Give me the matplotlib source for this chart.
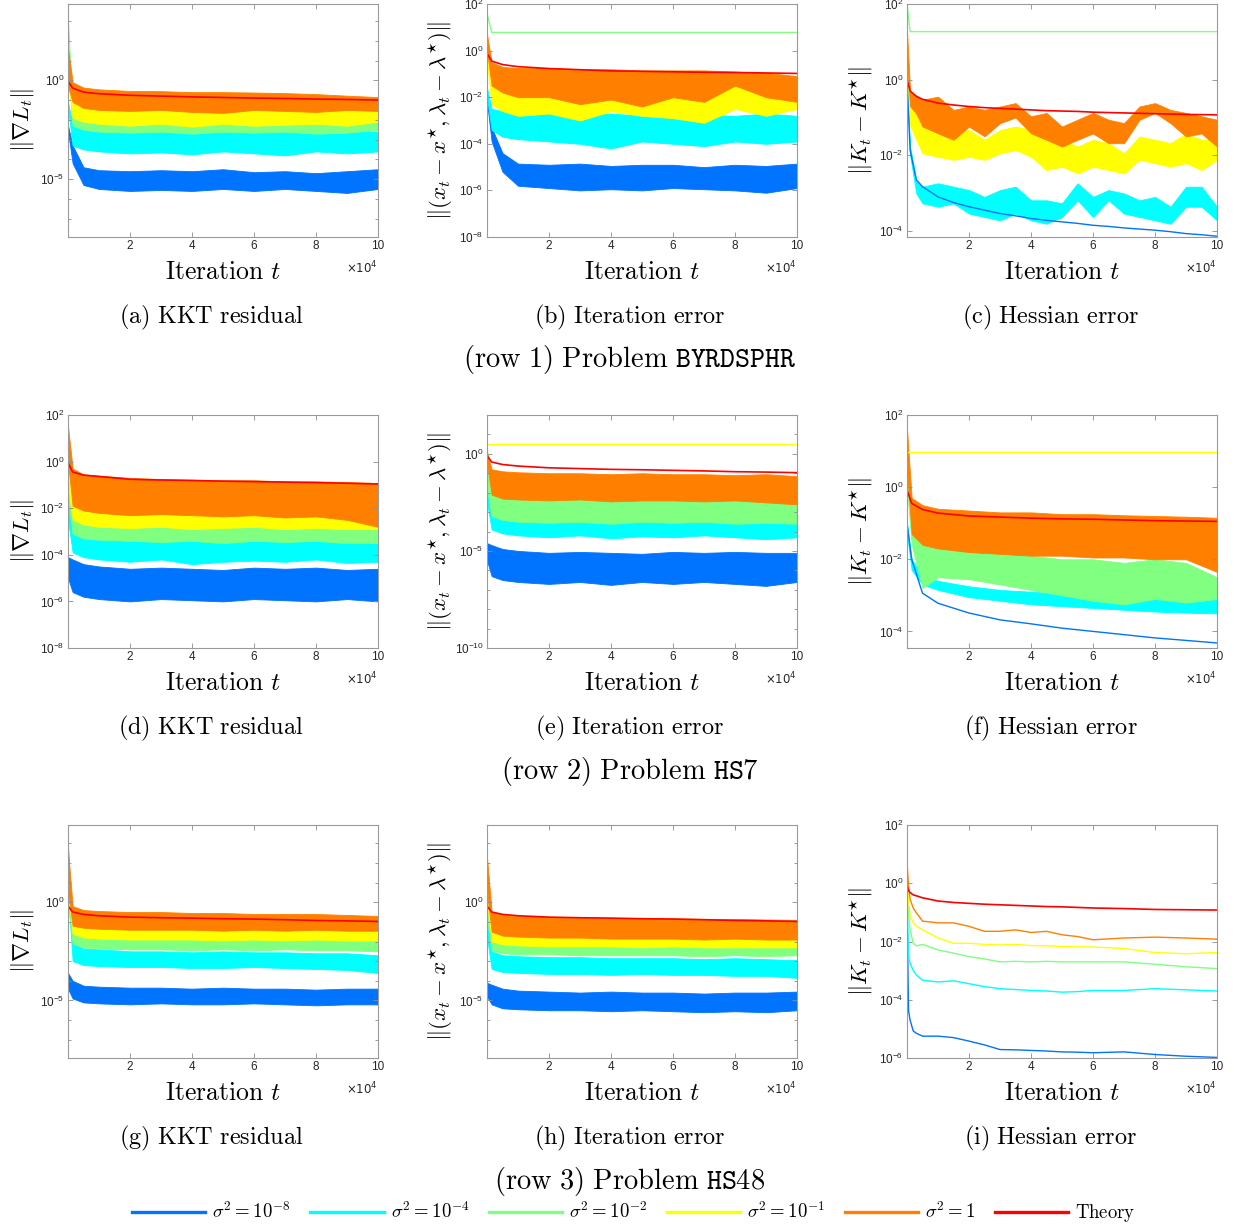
import numpy as np
import matplotlib
matplotlib.use('Agg')
import matplotlib.pyplot as plt
from matplotlib.lines import Line2D
from matplotlib.font_manager import FontProperties
from matplotlib.ticker import FixedLocator, NullFormatter

plt.rcParams['font.family'] = ['Liberation Sans', 'DejaVu Sans']
plt.rcParams['mathtext.fontset'] = 'dejavusans'

W, H = 1234, 1228

# series colours (sigma^2 = 1e-8, 1e-4, 1e-2, 1e-1, 1, theory)
COLORS = ['#0073FF', '#00FFFF', '#80FF80', '#FFFF00', '#FF8000', '#FF0000']
LEG_LABELS = [r'$\sigma^2 = 10^{-8}$', r'$\sigma^2 = 10^{-4}$', r'$\sigma^2 = 10^{-2}$',
              r'$\sigma^2 = 10^{-1}$', r'$\sigma^2 = 1$', r'$\mathrm{Theory}$']

# iteration knots (x 1e4); all values below are log10 of the plotted quantity
K = [0.0001, 0.15, 0.5, 1, 2, 3, 4, 5, 6, 7, 8, 9, 10]

# ---- (a) BYRDSPHR KKT residual : hi / lo envelopes
A_BLUE_HI = [-2.3, -3.3, -4.4, -4.55, -4.6, -4.55, -4.6, -4.5, -4.65, -4.6, -4.7, -4.6, -4.5]
A_BLUE_LO = [-2.6, -4.2, -5.3, -5.5, -5.6, -5.55, -5.6, -5.5, -5.6, -5.5, -5.6, -5.7, -5.5]
A_CYAN_HI = [-1.1, -2.3, -2.5, -2.5, -2.55, -2.5, -2.6, -2.5, -2.55, -2.5, -2.6, -2.55, -2.6]
A_CYAN_LO = [-1.4, -3.3, -3.5, -3.6, -3.7, -3.65, -3.75, -3.6, -3.7, -3.8, -3.6, -3.7, -3.6]
A_GREEN_HI = [3.0, -1.6, -1.7, -1.75, -1.8, -1.8, -1.8, -1.85, -1.8, -1.85, -1.8, -1.85, -1.8]
A_GREEN_LO = [0.5, -2.3, -2.5, -2.6, -2.65, -2.6, -2.7, -2.6, -2.65, -2.6, -2.7, -2.65, -2.5]
A_YELLOW_HI = [1.0, -0.9, -1.0, -1.05, -1.1, -1.05, -1.1, -1.1, -1.05, -1.1, -1.15, -1.1, -1.2]
A_YELLOW_LO = [0.0, -1.9, -2.1, -2.2, -2.3, -2.2, -2.35, -2.2, -2.3, -2.25, -2.2, -2.3, -2.1]
A_ORANGE_HI = [1.6, -0.1, -0.37, -0.46, -0.54, -0.55, -0.6, -0.6, -0.62, -0.65, -0.7, -0.78, -0.85]
A_ORANGE_LO = [-0.3, -1.1, -1.4, -1.5, -1.55, -1.5, -1.6, -1.65, -1.5, -1.55, -1.6, -1.5, -1.55]
A_THEORY = [-0.05, -0.4, -0.6, -0.68, -0.76, -0.8, -0.84, -0.87, -0.9, -0.92, -0.95, -0.97, -1.0]

# ---- (b) BYRDSPHR iteration error
B_BLUE_HI = [-1.85, -3.3, -4.4, -4.85, -4.9, -4.85, -4.95, -4.9, -4.9, -5.0, -4.9, -4.95, -4.85]
B_BLUE_LO = [-2.2, -3.9, -5.2, -5.8, -5.9, -6.0, -5.95, -6.0, -5.9, -5.95, -6.0, -6.1, -5.9]
B_CYAN_HI = [-1.6, -2.5, -2.6, -2.65, -2.7, -2.75, -2.7, -2.8, -2.7, -2.75, -2.8, -2.7, -2.8]
B_CYAN_LO = [-2.0, -3.4, -3.7, -3.8, -3.9, -4.0, -4.2, -3.9, -4.0, -4.1, -3.9, -4.0, -3.9]
B_GREEN = [1.6, 0.78, 0.78, 0.78, 0.78, 0.78, 0.78, 0.78, 0.78, 0.78, 0.78, 0.78, 0.78]
B_YELLOW_HI = [0.0, -1.1, -1.2, -1.2, -1.3, -1.3, -1.4, -1.3, -1.25, -1.5, -1.15, -1.5, -1.6]
B_YELLOW_LO = [-0.5, -2.3, -2.6, -2.8, -2.7, -3.0, -2.6, -2.8, -2.9, -3.1, -2.5, -2.8, -2.5]
B_ORANGE_HI = [0.7, -0.5, -0.7, -0.75, -0.75, -0.8, -0.8, -0.85, -0.85, -0.85, -0.9, -0.95, -1.1]
B_ORANGE_LO = [0.0, -1.5, -1.8, -2.0, -2.0, -2.3, -2.1, -2.4, -2.0, -2.2, -1.5, -2.0, -2.2]
B_THEORY = [-0.12, -0.45, -0.6, -0.69, -0.77, -0.82, -0.87, -0.89, -0.91, -0.93, -0.94, -0.96, -0.98]

# ---- (c) BYRDSPHR Hessian error (finer knots)
C_X = [0.0001, 0.1, 0.3, 0.5, 1, 1.5, 2, 2.5, 3, 3.5, 4, 4.5, 5, 5.5, 6, 6.5, 7, 7.5, 8, 8.5, 9, 9.5, 10]
C_BLUE = [0.0, -1.86, -2.65, -2.83, -3.1, -3.25, -3.36, -3.45, -3.54, -3.6, -3.67, -3.72, -3.76,
          -3.8, -3.85, -3.88, -3.92, -3.95, -3.98, -4.02, -4.07, -4.1, -4.14]
C_CYAN_HI = [0.0, -1.77, -2.65, -2.83, -2.74, -2.83, -2.92, -3.1, -2.92, -2.83, -3.19, -3.19, -3.27,
             -2.74, -3.1, -2.92, -3.01, -3.19, -3.1, -3.36, -2.83, -2.83, -3.36]
C_CYAN_LO = [-0.3, -2.0, -3.01, -3.27, -3.36, -3.27, -3.54, -3.63, -3.72, -3.54, -3.72, -3.81, -3.63,
             -3.19, -3.63, -3.19, -3.54, -3.63, -3.72, -3.81, -3.36, -3.36, -3.72]
C_GREEN = [2.0] + [1.27] * 22
C_YELLOW_HI = [0.5, -0.6, -0.8, -1.15, -1.24, -1.42, -1.33, -1.59, -1.33, -1.24, -1.33, -1.42, -1.59,
               -1.77, -1.59, -1.68, -1.95, -1.5, -1.59, -1.68, -1.42, -1.59, -1.59]
C_YELLOW_LO = [0.0, -1.2, -1.59, -1.95, -2.04, -2.12, -2.04, -2.12, -1.95, -1.86, -2.04, -2.39, -2.3,
               -2.48, -2.3, -2.39, -2.48, -2.12, -2.21, -2.3, -2.21, -2.39, -2.12]
C_ORANGE_HI = [1.3, -0.3, -0.44, -0.53, -0.45, -0.8, -0.71, -0.8, -0.71, -0.62, -0.97, -0.88, -1.24,
               -1.06, -0.88, -1.06, -1.15, -0.71, -0.62, -0.8, -0.88, -0.97, -1.06]
C_ORANGE_LO = [0.5, -0.7, -0.9, -1.24, -1.42, -1.59, -1.24, -1.5, -1.15, -1.0, -1.42, -1.59, -1.77,
               -1.59, -1.42, -1.68, -1.68, -1.06, -0.88, -1.15, -1.5, -1.42, -1.77]
C_THEORY = [0.0, -0.3, -0.44, -0.52, -0.62, -0.67, -0.71, -0.74, -0.76, -0.78, -0.8, -0.82, -0.83,
            -0.84, -0.86, -0.87, -0.88, -0.89, -0.9, -0.91, -0.92, -0.925, -0.93]

# ---- (d) HS7 KKT residual
D_BLUE_HI = [-4.1, -4.2, -4.4, -4.5, -4.6, -4.55, -4.6, -4.65, -4.55, -4.6, -4.55, -4.65, -4.6]
D_BLUE_LO = [-5.0, -5.6, -5.8, -5.9, -6.0, -5.9, -5.95, -6.0, -5.9, -5.95, -6.0, -5.9, -6.0]
D_CYAN_HI = [-1.5, -2.6, -2.8, -2.9, -2.95, -2.9, -3.0, -2.95, -2.9, -3.0, -2.95, -3.0, -3.0]
D_CYAN_LO = [-2.5, -3.9, -4.1, -4.2, -4.3, -4.2, -4.4, -4.3, -4.25, -4.3, -4.2, -4.35, -4.3]
D_GREEN_HI = [-0.5, -1.8, -2.0, -2.05, -2.1, -2.1, -2.15, -2.1, -2.1, -2.15, -2.1, -2.15, -2.2]
D_GREEN_LO = [-1.5, -3.1, -3.3, -3.35, -3.4, -3.45, -3.4, -3.5, -3.4, -3.45, -3.4, -3.5, -3.5]
D_YELLOW_HI = [0.5, -1.2, -1.3, -1.35, -1.4, -1.4, -1.35, -1.45, -1.4, -1.4, -1.45, -1.4, -1.5]
D_YELLOW_LO = [-1.0, -2.5, -2.7, -2.8, -2.85, -2.8, -2.9, -2.85, -2.8, -2.9, -2.85, -2.9, -2.9]
D_ORANGE_HI = [1.5, -0.3, -0.55, -0.6, -0.7, -0.75, -0.78, -0.8, -0.8, -0.85, -0.85, -0.88, -0.92]
D_ORANGE_LO = [0.0, -1.9, -2.1, -2.2, -2.3, -2.25, -2.3, -2.35, -2.3, -2.4, -2.35, -2.5, -2.8]
D_THEORY = [-0.05, -0.45, -0.58, -0.64, -0.76, -0.79, -0.81, -0.84, -0.86, -0.88, -0.9, -0.93, -0.96]

# ---- (e) HS7 iteration error
E_BLUE_HI = [-4.6, -4.7, -4.9, -5.0, -5.1, -5.05, -5.1, -5.15, -5.05, -5.1, -5.05, -5.1, -5.1]
E_BLUE_LO = [-5.5, -6.3, -6.5, -6.6, -6.7, -6.6, -6.75, -6.6, -6.7, -6.6, -6.7, -6.8, -6.6]
E_CYAN_HI = [-1.5, -2.6, -2.75, -2.8, -2.85, -2.9, -2.85, -2.9, -2.85, -2.9, -2.9, -2.85, -2.95]
E_CYAN_LO = [-2.5, -3.9, -4.1, -4.2, -4.3, -4.2, -4.35, -4.25, -4.3, -4.2, -4.3, -4.4, -4.3]
E_GREEN_HI = [-0.8, -1.8, -2.0, -2.05, -2.1, -2.1, -2.15, -2.1, -2.1, -2.15, -2.1, -2.15, -2.1]
E_GREEN_LO = [-1.8, -3.2, -3.4, -3.5, -3.55, -3.5, -3.6, -3.5, -3.55, -3.5, -3.6, -3.55, -3.6]
E_YELLOW = [0.51] * 13
E_ORANGE_HI = [0.1, -0.8, -0.9, -0.95, -1.0, -1.0, -1.05, -1.0, -1.05, -1.05, -1.1, -1.05, -1.15]
E_ORANGE_LO = [-0.5, -2.1, -2.3, -2.35, -2.4, -2.35, -2.45, -2.4, -2.4, -2.45, -2.4, -2.5, -2.6]
E_THEORY = [-0.1, -0.42, -0.55, -0.63, -0.72, -0.76, -0.8, -0.82, -0.85, -0.88, -0.92, -0.94, -0.97]

# ---- (f) HS7 Hessian error
F_BLUE = [-1.0, -2.0, -2.94, -3.22, -3.49, -3.68, -3.79, -3.91, -4.0, -4.09, -4.18, -4.25, -4.32]
F_CYAN_HI = [-1.0, -2.0, -2.45, -2.6, -2.75, -2.85, -2.9, -2.95, -3.0, -3.02, -3.05, -3.08, -3.1]
F_CYAN_LO = [-1.3, -2.3, -2.7, -2.85, -3.05, -3.15, -3.25, -3.3, -3.35, -3.4, -3.45, -3.48, -3.5]
F_GREEN_HI = [0.5, -1.0, -1.4, -1.55, -1.74, -1.8, -1.9, -2.0, -2.0, -2.1, -2.0, -2.1, -2.5]
F_GREEN_LO = [0.0, -1.6, -2.8, -2.5, -2.55, -2.7, -2.85, -3.0, -3.15, -3.25, -3.1, -3.2, -3.1]
F_YELLOW = [0.98] * 13
F_ORANGE_HI = [1.6, -0.3, -0.5, -0.6, -0.65, -0.7, -0.7, -0.75, -0.75, -0.78, -0.8, -0.82, -0.85]
F_ORANGE_LO = [0.5, -1.3, -1.6, -1.7, -1.8, -1.85, -1.9, -1.9, -1.95, -1.95, -2.0, -2.0, -2.35]
F_THEORY = [-0.08, -0.45, -0.62, -0.72, -0.8, -0.83, -0.86, -0.88, -0.89, -0.91, -0.93, -0.94, -0.95]

# ---- (g) HS48 KKT residual
G_BLUE_HI = [-3.6, -4.0, -4.25, -4.3, -4.35, -4.35, -4.4, -4.35, -4.4, -4.4, -4.45, -4.4, -4.4]
G_BLUE_LO = [-4.4, -4.9, -5.1, -5.15, -5.2, -5.15, -5.2, -5.2, -5.15, -5.2, -5.25, -5.2, -5.2]
G_CYAN_HI = [3.0, -2.1, -2.35, -2.4, -2.5, -2.5, -2.55, -2.5, -2.55, -2.55, -2.6, -2.6, -2.7]
G_CYAN_LO = [0.5, -3.0, -3.2, -3.25, -3.3, -3.3, -3.35, -3.35, -3.3, -3.35, -3.4, -3.45, -3.6]
G_GREEN_HI = [1.5, -1.3, -1.5, -1.55, -1.6, -1.6, -1.6, -1.65, -1.6, -1.6, -1.65, -1.6, -1.6]
G_GREEN_LO = [0.0, -2.1, -2.3, -2.35, -2.4, -2.4, -2.45, -2.4, -2.45, -2.4, -2.45, -2.45, -2.5]
G_YELLOW_HI = [2.0, -0.7, -0.85, -0.9, -0.9, -0.95, -0.95, -0.9, -0.95, -0.95, -0.95, -0.95, -1.0]
G_YELLOW_LO = [0.5, -1.6, -1.8, -1.85, -1.9, -1.9, -1.9, -1.95, -1.9, -1.95, -1.9, -1.95, -1.95]
G_ORANGE_HI = [2.66, -0.2, -0.4, -0.45, -0.5, -0.5, -0.55, -0.55, -0.6, -0.6, -0.6, -0.65, -0.7]
G_ORANGE_LO = [0.5, -1.2, -1.3, -1.35, -1.4, -1.4, -1.4, -1.45, -1.4, -1.45, -1.4, -1.45, -1.45]
G_THEORY = [-0.2, -0.5, -0.62, -0.69, -0.76, -0.79, -0.81, -0.84, -0.86, -0.89, -0.93, -0.95, -0.98]

# ---- (h) HS48 iteration error
H_BLUE_HI = [-4.1, -4.2, -4.4, -4.5, -4.55, -4.6, -4.55, -4.6, -4.6, -4.65, -4.6, -4.6, -4.55]
H_BLUE_LO = [-4.8, -5.2, -5.4, -5.45, -5.5, -5.5, -5.55, -5.5, -5.55, -5.6, -5.55, -5.6, -5.5]
H_CYAN_HI = [-1.0, -2.5, -2.7, -2.75, -2.8, -2.8, -2.85, -2.85, -2.85, -2.9, -2.85, -2.9, -2.95]
H_CYAN_LO = [-1.8, -3.4, -3.55, -3.6, -3.65, -3.65, -3.7, -3.65, -3.7, -3.7, -3.75, -3.75, -3.85]
H_GREEN_HI = [0.0, -1.6, -1.75, -1.8, -1.8, -1.85, -1.85, -1.85, -1.9, -1.9, -1.85, -1.9, -1.9]
H_GREEN_LO = [-0.8, -2.45, -2.6, -2.65, -2.65, -2.7, -2.7, -2.7, -2.7, -2.75, -2.7, -2.75, -2.7]
H_YELLOW_HI = [1.0, -1.1, -1.25, -1.3, -1.3, -1.35, -1.35, -1.35, -1.4, -1.4, -1.35, -1.4, -1.4]
H_YELLOW_LO = [0.0, -2.0, -2.15, -2.2, -2.25, -2.25, -2.25, -2.3, -2.25, -2.3, -2.3, -2.3, -2.3]
H_ORANGE_HI = [2.3, -0.5, -0.65, -0.7, -0.75, -0.78, -0.8, -0.8, -0.82, -0.85, -0.85, -0.88, -0.9]
H_ORANGE_LO = [0.5, -1.5, -1.7, -1.75, -1.8, -1.8, -1.85, -1.85, -1.85, -1.9, -1.85, -1.9, -1.9]
H_THEORY = [-0.2, -0.5, -0.62, -0.69, -0.76, -0.79, -0.81, -0.84, -0.86, -0.89, -0.93, -0.95, -0.98]

# ---- (i) HS48 Hessian error (smooth curves)
I_X = [0.0001, 0.05, 0.1, 0.2, 0.3, 0.5, 1, 1.5, 2, 2.5, 3, 3.5, 4, 4.5, 5, 5.5, 6, 7, 8, 9, 10]
I_BLUE = [-0.9, -4.38, -4.7, -5.07, -5.15, -5.25, -5.25, -5.3, -5.42, -5.55, -5.71, -5.72, -5.74,
          -5.76, -5.79, -5.8, -5.82, -5.79, -5.88, -5.94, -5.98]
I_CYAN = [-0.3, -2.52, -2.75, -2.99, -3.15, -3.33, -3.39, -3.35, -3.45, -3.55, -3.62, -3.65, -3.68,
          -3.7, -3.74, -3.72, -3.68, -3.68, -3.62, -3.66, -3.7]
I_GREEN = [0.0, -1.0, -1.6, -2.06, -2.15, -2.1, -2.29, -2.4, -2.52, -2.6, -2.7, -2.68, -2.7,
           -2.68, -2.7, -2.7, -2.7, -2.7, -2.78, -2.87, -2.93]
I_YELLOW = [0.3, -0.6, -1.13, -1.35, -1.48, -1.6, -1.88, -2.06, -2.06, -2.1, -2.12, -2.1, -2.14,
            -2.15, -2.17, -2.18, -2.19, -2.24, -2.38, -2.42, -2.38]
I_ORANGE = [0.72, -0.1, -0.55, -0.85, -1.01, -1.3, -1.36, -1.36, -1.48, -1.65, -1.65, -1.6, -1.69,
            -1.65, -1.77, -1.83, -1.94, -1.88, -1.85, -1.88, -1.92]
I_THEORY = [-0.09, -0.25, -0.32, -0.4, -0.43, -0.5, -0.61, -0.66, -0.69, -0.72, -0.74, -0.76, -0.78,
            -0.8, -0.81, -0.83, -0.85, -0.87, -0.9, -0.91, -0.92]

YLAB_KKT = r'$\|\nabla L_t\|$'
YLAB_ITER = r'$\|(x_t - x^{\star}, \lambda_t - \lambda^{\star})\|$'
YLAB_HESS = r'$\|K_t - K^{\star}\|$'
SUBCAPS = ['(a) KKT residual', '(b) Iteration error', '(c) Hessian error',
           '(d) KKT residual', '(e) Iteration error', '(f) Hessian error',
           '(g) KKT residual', '(h) Iteration error', '(i) Hessian error']
ROWCAPS = [('1', 'BYRDSPHR'), ('2', 'HS7'), ('3', 'HS48')]

# per panel: x knots, series list (hi, lo or None) blue->orange, theory, ylim, major ticks
PANELS = [
    (K, [(A_BLUE_HI, A_BLUE_LO), (A_CYAN_HI, A_CYAN_LO), (A_GREEN_HI, A_GREEN_LO),
         (A_YELLOW_HI, A_YELLOW_LO), (A_ORANGE_HI, A_ORANGE_LO)], A_THEORY,
     (-7.93, 3.86), [-5, 0], True, YLAB_KKT),
    (K, [(B_BLUE_HI, B_BLUE_LO), (B_CYAN_HI, B_CYAN_LO), (B_GREEN, None),
         (B_YELLOW_HI, B_YELLOW_LO), (B_ORANGE_HI, B_ORANGE_LO)], B_THEORY,
     (-8, 2), [-8, -6, -4, -2, 0, 2], False, YLAB_ITER),
    (C_X, [(C_BLUE, None), (C_CYAN_HI, C_CYAN_LO), (C_GREEN, None),
           (C_YELLOW_HI, C_YELLOW_LO), (C_ORANGE_HI, C_ORANGE_LO)], C_THEORY,
     (-4.16, 2), [-4, -2, 0, 2], False, YLAB_HESS),
    (K, [(D_BLUE_HI, D_BLUE_LO), (D_CYAN_HI, D_CYAN_LO), (D_GREEN_HI, D_GREEN_LO),
         (D_YELLOW_HI, D_YELLOW_LO), (D_ORANGE_HI, D_ORANGE_LO)], D_THEORY,
     (-8, 2), [-8, -6, -4, -2, 0, 2], False, YLAB_KKT),
    (K, [(E_BLUE_HI, E_BLUE_LO), (E_CYAN_HI, E_CYAN_LO), (E_GREEN_HI, E_GREEN_LO),
         (E_YELLOW, None), (E_ORANGE_HI, E_ORANGE_LO)], E_THEORY,
     (-10, 2), [-10, -5, 0], True, YLAB_ITER),
    (K, [(F_BLUE, None), (F_CYAN_HI, F_CYAN_LO), (F_GREEN_HI, F_GREEN_LO),
         (F_YELLOW, None), (F_ORANGE_HI, F_ORANGE_LO)], F_THEORY,
     (-4.46, 2), [-4, -2, 0, 2], False, YLAB_HESS),
    (K, [(G_BLUE_HI, G_BLUE_LO), (G_CYAN_HI, G_CYAN_LO), (G_GREEN_HI, G_GREEN_LO),
         (G_YELLOW_HI, G_YELLOW_LO), (G_ORANGE_HI, G_ORANGE_LO)], G_THEORY,
     (-7.93, 3.93), [-5, 0], True, YLAB_KKT),
    (K, [(H_BLUE_HI, H_BLUE_LO), (H_CYAN_HI, H_CYAN_LO), (H_GREEN_HI, H_GREEN_LO),
         (H_YELLOW_HI, H_YELLOW_LO), (H_ORANGE_HI, H_ORANGE_LO)], H_THEORY,
     (-7.93, 3.93), [-5, 0], True, YLAB_ITER),
    (I_X, [(I_BLUE, None), (I_CYAN, None), (I_GREEN, None),
           (I_YELLOW, None), (I_ORANGE, None)], I_THEORY,
     (-6, 2), [-6, -4, -2, 0, 2], False, YLAB_HESS),
]

COL_LEFT = [68, 487, 907]
ROW_TOP = [4, 415, 825]
AX_W, AX_H = 310, 233
SUB_X = [211, 630, 1051]
CM = dict(math_fontfamily='cm', color='black')


def fx(x):
    return x / W


def fy(y):
    return 1 - y / H


fig = plt.figure(figsize=(W / 100, H / 100), dpi=100)

for k, (xk, series, theory, ylim, yt, minor, ylab) in enumerate(PANELS):
    r, c = divmod(k, 3)
    left, top = COL_LEFT[c], ROW_TOP[r]
    ax = fig.add_axes([fx(left), fy(top + AX_H), AX_W / W, AX_H / H])
    x = np.array(xk)
    for (hi, lo), col in zip(series, COLORS):
        if lo is None:
            ax.plot(x, 10.0 ** np.array(hi), color=col, lw=1.0)
        else:
            ax.fill_between(x, 10.0 ** np.array(lo), 10.0 ** np.array(hi),
                            facecolor=col, edgecolor=col, lw=0.6)
    ax.plot(x, 10.0 ** np.array(theory), color=COLORS[5], lw=1.2)

    ax.set_yscale('log')
    ax.set_xlim(0, 10)
    ax.set_ylim(10.0 ** ylim[0], 10.0 ** ylim[1])
    ax.set_xticks([2, 4, 6, 8, 10])
    ax.set_yticks([10.0 ** v for v in yt])
    if minor:
        ax.yaxis.set_minor_locator(FixedLocator([10.0 ** v for v in range(-12, 5)]))
    else:
        ax.yaxis.set_minor_locator(FixedLocator([]))
    ax.yaxis.set_minor_formatter(NullFormatter())
    ax.tick_params(which='both', direction='in', top=True, right=True,
                   color='#8c8c8c', labelcolor='#262626', labelsize=8.5, width=0.6)
    ax.tick_params(which='major', length=3.5, pad=2.5)
    ax.tick_params(which='minor', length=2)
    for s in ax.spines.values():
        s.set_color('#9a9a9a')
        s.set_linewidth(0.8)

    cx = left + AX_W / 2
    cy = top + AX_H / 2
    fig.text(fx(cx), fy(top + AX_H + 35), r'$\mathrm{Iteration}\ t$',
             ha='center', va='center', fontsize=18.5, **CM)
    fig.text(fx(left + AX_W), fy(top + AX_H + 31), r'$\times10^{4}$',
             ha='right', va='center', fontsize=8.5, color='#262626')
    fig.text(fx(left - 46), fy(cy), ylab, rotation=90, ha='center', va='center',
             fontsize=16.5, **CM)
    cap = SUBCAPS[k].replace(' ', r'\ ')
    fig.text(fx(SUB_X[c]), fy(top + AX_H + 80), r'$\mathrm{' + cap + '}$',
             ha='center', va='center', fontsize=17.5, **CM)

for r, (num, name) in enumerate(ROWCAPS):
    fig.text(fx(630), fy(ROW_TOP[r] + AX_H + 123),
             r'$\mathrm{(row\ ' + num + r')\ Problem}\ \mathtt{' + name + '}$',
             ha='center', va='center', fontsize=20.5, **CM)

handles = [Line2D([], [], color=col, lw=2.4) for col in COLORS]
fig.legend(handles, LEG_LABELS, loc='center', bbox_to_anchor=(fx(634), fy(1213)),
           ncol=6, frameon=False, handlelength=3.9, handletextpad=0.37,
           columnspacing=1.05, prop=FontProperties(size=13.5, math_fontfamily='cm'))

fig.savefig('out.png', dpi=100)
